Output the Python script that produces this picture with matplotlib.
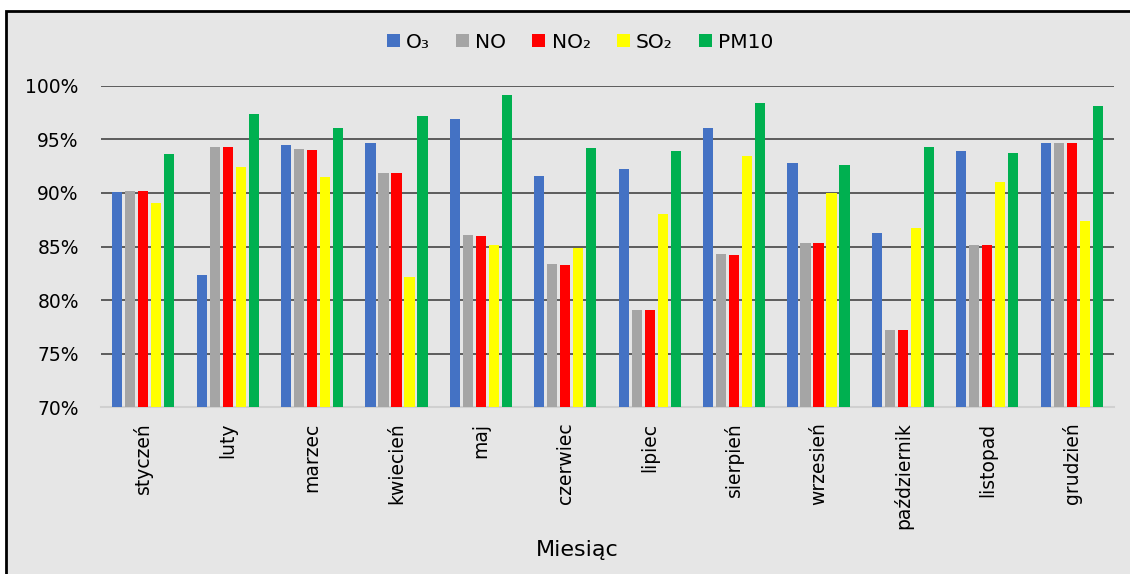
import numpy as np
import matplotlib
matplotlib.use('Agg')
import matplotlib.pyplot as plt
from matplotlib.patches import Patch, Rectangle
from matplotlib.ticker import PercentFormatter

plt.rcParams['font.family'] = ['DejaVu Sans']

# Data (percent)
months = ['styczeń', 'luty', 'marzec', 'kwiecień', 'maj', 'czerwiec', 'lipiec',
          'sierpień', 'wrzesień', 'październik', 'listopad', 'grudzień']
o3 = [90.1, 82.3, 94.5, 94.7, 96.9, 91.6, 92.2, 96.1, 92.8, 86.3, 93.9, 94.7]
no = [90.2, 94.3, 94.1, 91.9, 86.1, 83.4, 79.1, 84.3, 85.3, 77.2, 85.1, 94.7]
no2 = [90.2, 94.3, 94.0, 91.9, 86.0, 83.3, 79.1, 84.2, 85.3, 77.2, 85.1, 94.7]
so2 = [89.1, 92.4, 91.5, 82.2, 85.1, 84.9, 88.0, 93.4, 90.0, 86.7, 91.0, 87.4]
pm10 = [93.6, 97.4, 96.1, 97.2, 99.1, 94.2, 93.9, 98.4, 92.6, 94.3, 93.7, 98.1]

series = [o3, no, no2, so2, pm10]
labels = ['O₃', 'NO', 'NO₂', 'SO₂', 'PM10']
colors = ['#4472C4', '#A5A5A5', '#FF0000', '#FFFF00', '#00B050']

bg = '#e6e6e6'
fig = plt.figure(figsize=(11.3, 5.74), dpi=100, facecolor='white')

# chart area frame (cropped at right and bottom)
frame = Rectangle((6 / 1130, -0.02), 1.1, (574 - 11) / 574 + 0.02,
                  transform=fig.transFigure, facecolor=bg,
                  edgecolor='black', linewidth=2, zorder=-10)
fig.patches.append(frame)

ax = fig.add_axes([101 / 1130, (574 - 407.3) / 574, (1114 - 101) / 1130, (407.3 - 85.7) / 574])
ax.set_facecolor(bg)

x = np.arange(len(months))
step = 0.154
width = 0.12
for i, (vals, col) in enumerate(zip(series, colors)):
    ax.bar(x + (i - 2) * step, np.array(vals) - 70, width=width, bottom=70,
           color=col, zorder=3)

ax.set_xlim(-0.5, len(months) - 0.5)
ax.set_ylim(70, 100)
ax.set_yticks(np.arange(70, 101, 5))
ax.yaxis.set_major_formatter(PercentFormatter(decimals=0))
ax.grid(axis='y', color='#444444', linewidth=1.2, zorder=1)
ax.set_axisbelow(True)

for s in ['top', 'right', 'left']:
    ax.spines[s].set_visible(False)
ax.spines['bottom'].set_color('#d0d0d0')
ax.spines['bottom'].set_linewidth(1.5)

ax.set_xticks(x)
ax.set_xticklabels(months, rotation=90, fontsize=13.5)
ax.tick_params(axis='x', length=0, pad=11)
ax.tick_params(axis='y', length=0, pad=16, labelsize=13.5)

fig.text(577 / 1130, 1 - 550 / 574, 'Miesiąc', fontsize=16, ha='center', va='center')

handles = [Patch(facecolor=c, edgecolor='none') for c in colors]
fig.legend(handles, labels, loc='center', bbox_to_anchor=(580 / 1130, 1 - 42 / 574),
           ncol=5, frameon=False, fontsize=14.5, handlelength=0.65, handleheight=0.65,
           handletextpad=0.3, columnspacing=1.3)

fig.savefig('out.png', dpi=100, facecolor='white')
